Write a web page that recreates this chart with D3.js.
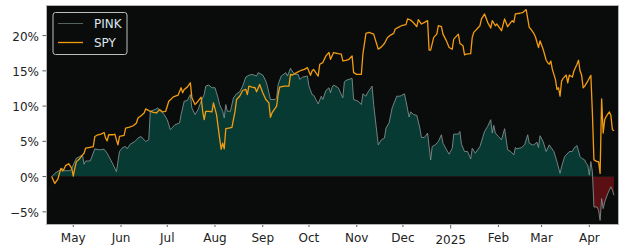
<!DOCTYPE html>
<html><head><meta charset="utf-8">
<script src="https://cdn.jsdelivr.net/npm/d3@7"></script>
<style>body{margin:0;background:#fff;} svg{display:block;font-family:"DejaVu Sans",sans-serif;}</style>
</head><body><svg id="c" width="625" height="250"></svg>
<script>
const seriesNames = ["PINK", "SPY"];
const pinkDates = ["2024-04-17","2024-04-19","2024-04-24","2024-04-25","2024-04-29","2024-04-30","2024-05-03","2024-05-05","2024-05-07","2024-05-08","2024-05-09","2024-05-12","2024-05-15","2024-05-18","2024-05-21","2024-05-23","2024-05-27","2024-05-29","2024-05-31","2024-06-02","2024-06-04","2024-06-05","2024-06-07","2024-06-10","2024-06-12","2024-06-14","2024-06-16","2024-06-17","2024-06-19","2024-06-20","2024-06-23","2024-06-25","2024-06-27","2024-06-29","2024-07-01","2024-07-03","2024-07-06","2024-07-09","2024-07-10","2024-07-12","2024-07-14","2024-07-16","2024-07-17","2024-07-19","2024-07-21","2024-07-23","2024-07-25","2024-07-26","2024-07-28","2024-07-30","2024-08-01","2024-08-02","2024-08-03","2024-08-04","2024-08-06","2024-08-07","2024-08-08","2024-08-09","2024-08-11","2024-08-13","2024-08-15","2024-08-17","2024-08-19","2024-08-21","2024-08-23","2024-08-25","2024-08-28","2024-08-29","2024-09-01","2024-09-03","2024-09-04","2024-09-06","2024-09-09","2024-09-10","2024-09-11","2024-09-13","2024-09-16","2024-09-17","2024-09-19","2024-09-20","2024-09-22","2024-09-24","2024-09-25","2024-09-27","2024-09-30","2024-10-01","2024-10-03","2024-10-04","2024-10-07","2024-10-09","2024-10-10","2024-10-12","2024-10-14","2024-10-15","2024-10-16","2024-10-17","2024-10-20","2024-10-21","2024-10-23","2024-10-24","2024-10-25","2024-10-27","2024-10-29","2024-10-30","2024-11-02","2024-11-04","2024-11-05","2024-11-07","2024-11-08","2024-11-11","2024-11-12","2024-11-15","2024-11-17","2024-11-19","2024-11-20","2024-11-22","2024-11-24","2024-11-27","2024-11-29","2024-11-30","2024-12-02","2024-12-03","2024-12-05","2024-12-06","2024-12-08","2024-12-10","2024-12-12","2024-12-13","2024-12-15","2024-12-17","2024-12-19","2024-12-20","2024-12-22","2024-12-24","2024-12-26","2024-12-27","2024-12-29","2024-12-31","2025-01-02","2025-01-03","2025-01-06","2025-01-07","2025-01-08","2025-01-10","2025-01-12","2025-01-14","2025-01-15","2025-01-17","2025-01-20","2025-01-22","2025-01-23","2025-01-25","2025-01-27","2025-01-28","2025-01-29","2025-01-30","2025-02-01","2025-02-03","2025-02-05","2025-02-07","2025-02-09","2025-02-11","2025-02-12","2025-02-13","2025-02-16","2025-02-18","2025-02-20","2025-02-21","2025-02-23","2025-02-24","2025-02-26","2025-02-27","2025-02-28","2025-03-02","2025-03-04","2025-03-06","2025-03-09","2025-03-11","2025-03-13","2025-03-14","2025-03-16","2025-03-17","2025-03-19","2025-03-21","2025-03-22","2025-03-24","2025-03-26","2025-03-27","2025-03-29","2025-03-30","2025-03-31","2025-04-01","2025-04-02","2025-04-03","2025-04-04","2025-04-06","2025-04-07","2025-04-08","2025-04-09","2025-04-10","2025-04-11","2025-04-13","2025-04-15","2025-04-16","2025-04-17"];
const pinkValues = [0,0.45,1.17,0.83,0.83,1.17,2.60,2.83,3.07,1.74,2.21,2.21,3.93,3.79,3.88,3.31,1.64,0.69,3.55,4.12,4.26,3.93,4.60,4.98,5.45,5.69,5.21,4.98,5.21,9.26,9.50,9.74,9.26,8.79,8.07,6.64,7.36,7.60,8.79,10.69,10.79,11.64,9.74,8.79,9.50,10.69,11.64,12.83,12.98,12.60,12.60,11.88,11.17,10.21,9.26,8.31,10.21,9.26,9.26,11.17,11.74,12.02,12.83,14.12,14.36,14.50,14.26,14.74,14.40,13.55,12.83,10.93,10.93,11.17,13.07,14.26,14.74,14.26,15.36,14.98,14.50,14.50,13.79,14.12,14.26,12.83,11.64,11.55,10.31,11.40,10.93,12.21,12.60,11.88,12.69,12.98,12.60,12.12,11.17,13.45,13.64,13.79,13.93,10.93,10.69,10.21,11.74,11.40,11.88,12.83,10.21,4.50,5.21,5.45,6.88,7.60,9.74,11.40,11.40,11.50,11.74,10.69,8.45,9.17,8.79,8.69,6.88,5.55,5.55,6.17,2.36,4.26,4.50,4.98,5.93,4.74,3.93,3.17,4.02,6.02,6.02,6.40,4.60,3.55,3.55,2.50,4.02,3.31,4.26,5.69,6.40,7.12,8.07,6.17,7.26,6.17,5.69,5.21,6.79,3.79,3.55,3.07,4.12,3.93,4.12,4.50,5.93,4.74,4.50,4.50,4.88,4.12,5.79,4.98,3.55,4.50,3.55,2.12,0.45,1.40,2.83,3.07,3.55,3.55,4.02,4.40,2.83,2.60,2.36,1.88,1.64,0.21,2.12,0.69,-4.31,-4.31,-4.79,-6.21,-3.12,-4.55,-3.60,-2.40,-1.45,-1.93,-2.64];
const spyDates = ["2024-04-17","2024-04-19","2024-04-21","2024-04-22","2024-04-23","2024-04-24","2024-04-25","2024-04-26","2024-04-28","2024-04-30","2024-05-01","2024-05-02","2024-05-03","2024-05-05","2024-05-07","2024-05-08","2024-05-09","2024-05-11","2024-05-14","2024-05-15","2024-05-17","2024-05-19","2024-05-21","2024-05-22","2024-05-23","2024-05-24","2024-05-27","2024-05-28","2024-05-29","2024-05-30","2024-05-31","2024-06-03","2024-06-04","2024-06-06","2024-06-09","2024-06-11","2024-06-12","2024-06-14","2024-06-16","2024-06-17","2024-06-19","2024-06-22","2024-06-24","2024-06-26","2024-06-28","2024-06-30","2024-07-02","2024-07-05","2024-07-08","2024-07-10","2024-07-11","2024-07-12","2024-07-14","2024-07-16","2024-07-17","2024-07-19","2024-07-21","2024-07-23","2024-07-24","2024-07-25","2024-07-26","2024-07-28","2024-07-30","2024-07-31","2024-08-02","2024-08-03","2024-08-04","2024-08-05","2024-08-06","2024-08-07","2024-08-08","2024-08-10","2024-08-12","2024-08-14","2024-08-15","2024-08-17","2024-08-19","2024-08-21","2024-08-22","2024-08-23","2024-08-25","2024-08-27","2024-08-28","2024-08-30","2024-09-01","2024-09-03","2024-09-05","2024-09-06","2024-09-07","2024-09-10","2024-09-11","2024-09-12","2024-09-15","2024-09-18","2024-09-19","2024-09-20","2024-09-23","2024-09-25","2024-09-26","2024-09-28","2024-09-30","2024-10-02","2024-10-03","2024-10-04","2024-10-07","2024-10-08","2024-10-10","2024-10-12","2024-10-14","2024-10-15","2024-10-17","2024-10-20","2024-10-22","2024-10-23","2024-10-25","2024-10-27","2024-10-29","2024-10-30","2024-11-01","2024-11-04","2024-11-05","2024-11-07","2024-11-09","2024-11-12","2024-11-15","2024-11-17","2024-11-19","2024-11-21","2024-11-23","2024-11-25","2024-11-26","2024-11-28","2024-11-30","2024-12-03","2024-12-04","2024-12-06","2024-12-08","2024-12-10","2024-12-11","2024-12-13","2024-12-15","2024-12-17","2024-12-18","2024-12-19","2024-12-21","2024-12-23","2024-12-24","2024-12-26","2024-12-27","2024-12-29","2024-12-31","2025-01-02","2025-01-03","2025-01-06","2025-01-07","2025-01-09","2025-01-10","2025-01-11","2025-01-14","2025-01-15","2025-01-16","2025-01-20","2025-01-21","2025-01-23","2025-01-25","2025-01-27","2025-01-28","2025-01-30","2025-01-31","2025-02-03","2025-02-05","2025-02-07","2025-02-09","2025-02-10","2025-02-11","2025-02-12","2025-02-15","2025-02-17","2025-02-19","2025-02-21","2025-02-22","2025-02-24","2025-02-25","2025-02-27","2025-02-28","2025-03-02","2025-03-04","2025-03-05","2025-03-06","2025-03-07","2025-03-08","2025-03-10","2025-03-11","2025-03-12","2025-03-13","2025-03-14","2025-03-15","2025-03-17","2025-03-18","2025-03-19","2025-03-21","2025-03-22","2025-03-24","2025-03-25","2025-03-26","2025-03-27","2025-03-28","2025-03-29","2025-03-31","2025-04-02","2025-04-03","2025-04-04","2025-04-06","2025-04-07","2025-04-08","2025-04-09","2025-04-10","2025-04-11","2025-04-12","2025-04-14","2025-04-15","2025-04-16","2025-04-17"];
const spyValues = [0,-0.98,-0.36,0.45,1.17,0.79,1.07,1.55,1.83,1.17,0.07,1.17,2.12,2.50,3.07,3.31,4.02,4.12,4.26,5.69,5.93,6.02,6.26,5.45,5.07,5.93,5.93,6.02,5.21,4.50,5.69,5.83,6.88,6.98,7.21,7.60,8.31,8.64,9.02,9.60,9.36,9.12,9.02,9.50,9.17,9.26,10.69,11.31,11.55,12.60,11.88,12.36,12.69,13.31,11.17,10.21,10.69,11.26,9.26,8.07,9.26,9.26,9.17,10.45,8.79,7.12,5.45,3.88,4.74,3.93,6.79,6.88,6.98,9.26,10.93,11.40,12.21,12.36,11.64,12.83,12.69,12.60,12.02,13.07,11.88,10.93,10.45,8.40,9.02,9.98,11.64,12.69,12.83,12.83,14.50,14.40,14.74,14.98,15.07,15.21,15.45,14.36,14.98,15.21,14.26,15.93,16.17,17.12,17.60,16.64,17.60,17.45,17.36,16.40,16.50,16.64,17.12,14.74,14.50,14.50,17.36,20.31,20.45,20.21,18.07,18.40,18.88,19.74,20.07,20.31,20.93,21.17,21.40,21.55,22.36,22.21,21.79,21.26,22.26,21.64,21.88,22.12,17.93,17.93,19.74,20.21,21.40,21.26,20.21,19.36,18.31,18.07,19.50,20.21,18.88,18.55,17.26,17.36,17.45,19.74,20.45,21.40,22.36,23.07,21.88,21.07,22.12,21.40,21.64,20.69,22.36,21.26,21.88,22.12,21.88,23.07,23.17,23.31,23.69,21.17,20.93,20.31,19.83,18.31,19.26,18.07,16.50,16.17,15.93,16.40,15.21,13.79,12.36,12.60,11.40,13.55,13.93,14.40,13.31,14.40,14.12,14.98,15.93,16.50,14.98,14.40,12.60,12.83,13.55,14.36,9.02,2.36,2.12,2.12,0.45,11.02,6.17,8.07,8.55,9.17,8.69,6.64,6.50];
const tickDates = ["2024-05-01","2024-06-01","2024-07-01","2024-08-01","2024-09-01","2024-10-01","2024-11-01","2024-12-01","2025-01-01","2025-02-01","2025-03-01","2025-04-01"];
const tickLabels = ["May","Jun","Jul","Aug","Sep","Oct","Nov","Dec","2025","Feb","Mar","Apr"];
const yTicks = [-5, 0, 5, 10, 15, 20];

const parse = d3.timeParse("%Y-%m-%d");
const pink = pinkDates.map((d, i) => ({date: parse(d), v: pinkValues[i]}));
const spy = spyDates.map((d, i) => ({date: parse(d), v: spyValues[i]}));

const L = 46, R = 619, T = 5, B = 225;
const x = d3.scaleTime().domain([new Date(2024, 3, 13, 7), new Date(2025, 3, 20, 6, 30)]).range([L, R]);
const y = d3.scaleLinear().domain([-6.87, 24.34]).range([B, T]);

const svg = d3.select("#c");
svg.append("rect").attr("x", 0).attr("y", 0).attr("width", 625).attr("height", 250).attr("fill", "#fff");
svg.append("rect").attr("x", L).attr("y", T).attr("width", R - L).attr("height", B - T).attr("fill", "#0a0c0c");

const defs = svg.append("defs");
defs.append("clipPath").attr("id", "above").append("rect")
  .attr("x", L).attr("y", T).attr("width", R - L).attr("height", y(0) - T);
defs.append("clipPath").attr("id", "below").append("rect")
  .attr("x", L).attr("y", y(0)).attr("width", R - L).attr("height", B - y(0));

const area = d3.area().x(d => x(d.date)).y0(y(0)).y1(d => y(d.v));
svg.append("path").datum(pink).attr("d", area).attr("fill", "#073a32").attr("clip-path", "url(#above)");
svg.append("path").datum(pink).attr("d", area).attr("fill", "#5a1012").attr("clip-path", "url(#below)");

const line = d3.line().x(d => x(d.date)).y(d => y(d.v));
svg.append("path").datum(pink).attr("d", line).attr("fill", "none").attr("stroke", "#7f8c8c").attr("stroke-width", 0.9);
svg.append("path").datum(spy).attr("d", line).attr("fill", "none").attr("stroke", "#f39c12").attr("stroke-width", 1.3).attr("stroke-linejoin", "round");

// frame
svg.append("rect").attr("x", L + 0.5).attr("y", T + 0.5).attr("width", R - L - 1).attr("height", B - T - 1)
  .attr("fill", "none").attr("stroke", "#b4b4b4").attr("stroke-width", 1);

// y axis
const yg = svg.append("g");
yTicks.forEach(t => {
  const yy = y(t);
  yg.append("line").attr("x1", L - 3.5).attr("x2", L).attr("y1", yy).attr("y2", yy).attr("stroke", "#333").attr("stroke-width", 0.8);
  yg.append("text").attr("x", L - 7).attr("y", yy + 5).attr("text-anchor", "end").attr("font-size", 12).attr("fill", "#222")
    .text((t < 0 ? "\u2212" + Math.abs(t) : t) + "%");
});

// x axis
const xg = svg.append("g");
tickDates.forEach((d, i) => {
  const xx = x(parse(d));
  const major = tickLabels[i] === "2025";
  const len = major ? 3.5 : 2;
  xg.append("line").attr("x1", xx).attr("x2", xx).attr("y1", B).attr("y2", B + len).attr("stroke", "#333").attr("stroke-width", 0.8);
  xg.append("text").attr("x", xx).attr("y", major ? 244 : 242).attr("text-anchor", "middle").attr("font-size", 12).attr("fill", "#222")
    .text(tickLabels[i]);
});

// legend
const lg = svg.append("g");
lg.append("rect").attr("x", 53).attr("y", 12.5).attr("width", 74).attr("height", 42).attr("rx", 2.5)
  .attr("fill", "#0a0c0c").attr("stroke", "#bdbdbd").attr("stroke-width", 1);
const legendColors = ["#5f6b6b", "#f39c12"];
const legendWidths = [0.9, 1.3];
seriesNames.forEach((n, i) => {
  const yy = 23.5 + i * 19;
  lg.append("line").attr("x1", 58).attr("x2", 83).attr("y1", yy).attr("y2", yy).attr("stroke", legendColors[i]).attr("stroke-width", legendWidths[i]);
  lg.append("text").attr("x", 94).attr("y", yy + 4.3).attr("font-size", 12).attr("fill", "#dde6ee").text(n);
});
</script>
</body></html>
